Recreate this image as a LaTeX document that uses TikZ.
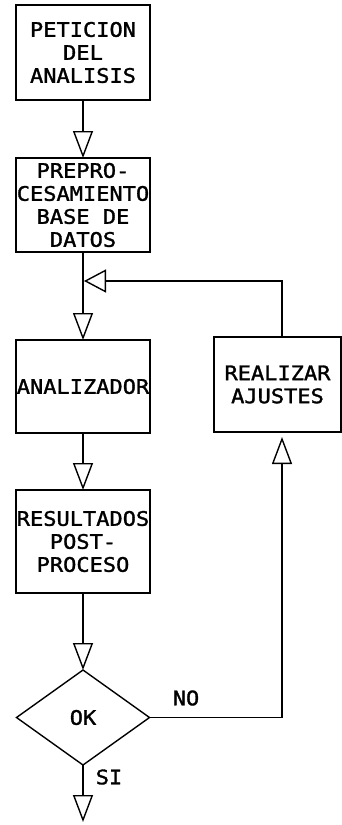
\documentclass[tikz,border=0pt]{standalone}
\usepackage{fontspec}
\newfontfamily\plotfont[FakeStretch=1.1,FakeBold=1.5]{DejaVu Sans Mono}
\usetikzlibrary{arrows.meta,shapes.geometric}
\begin{document}
\begin{tikzpicture}[x=1pt,y=-1pt,
  txt/.style={font=\plotfont\fontsize{20}{23}\selectfont},
  box/.style={txt,draw,line width=1.4pt,minimum width=134pt,inner sep=0pt,outer sep=0pt,align=center},
  dec/.style={txt,draw,diamond,line width=1.4pt,minimum width=133pt,minimum height=95pt,inner sep=0pt,outer sep=0pt},
  flow/.style={line width=1.4pt,-{Triangle[open,length=27pt,width=20pt,line width=1.4pt]}},
  back/.style={line width=1.4pt,-{Triangle[open,length=22pt,width=23pt,line width=1.4pt]}},
  lbl/.style={txt,inner sep=0pt}]
\useasboundingbox (0,0) rectangle (342,825);
\node[box,minimum height=95pt] (pet) at (83,52.5) {PETICION\\DEL\\ANALISIS};
\node[box,minimum height=94pt] (pre) at (83,205) {PREPRO-\\CESAMIENTO\\BASE DE\\DATOS};
\node[box,minimum height=93pt] (ana) at (83,386.5) {ANALIZADOR};
\node[box,minimum height=103pt] (res) at (83,541.5) {RESULTADOS\\POST-\\PROCESO};
\node[box,minimum width=127pt,minimum height=95pt] (aju) at (277.5,384.5) {REALIZAR\\AJUSTES};
\node[dec] (ok) at (83,717.5) {OK};
\coordinate (rx) at (282,0);
\coordinate (j) at (84,281);
\coordinate (fin) at (83,822);
\node[lbl] (no) at (186,698) {NO};
\node[lbl] (si) at (109,777) {SI};
\draw[flow] (pet) -- (pre);
\draw[flow] (pre) -- (ana);
\draw[flow] (ana) -- (res);
\draw[flow] (res) -- (ok);
\draw[flow] (ok.south) -- (fin);
\draw[flow,shorten >=5pt] (ok.east) -| (aju.south -| rx);
\draw[back] (aju.north -| rx) |- (j);
\end{tikzpicture}
\end{document}
